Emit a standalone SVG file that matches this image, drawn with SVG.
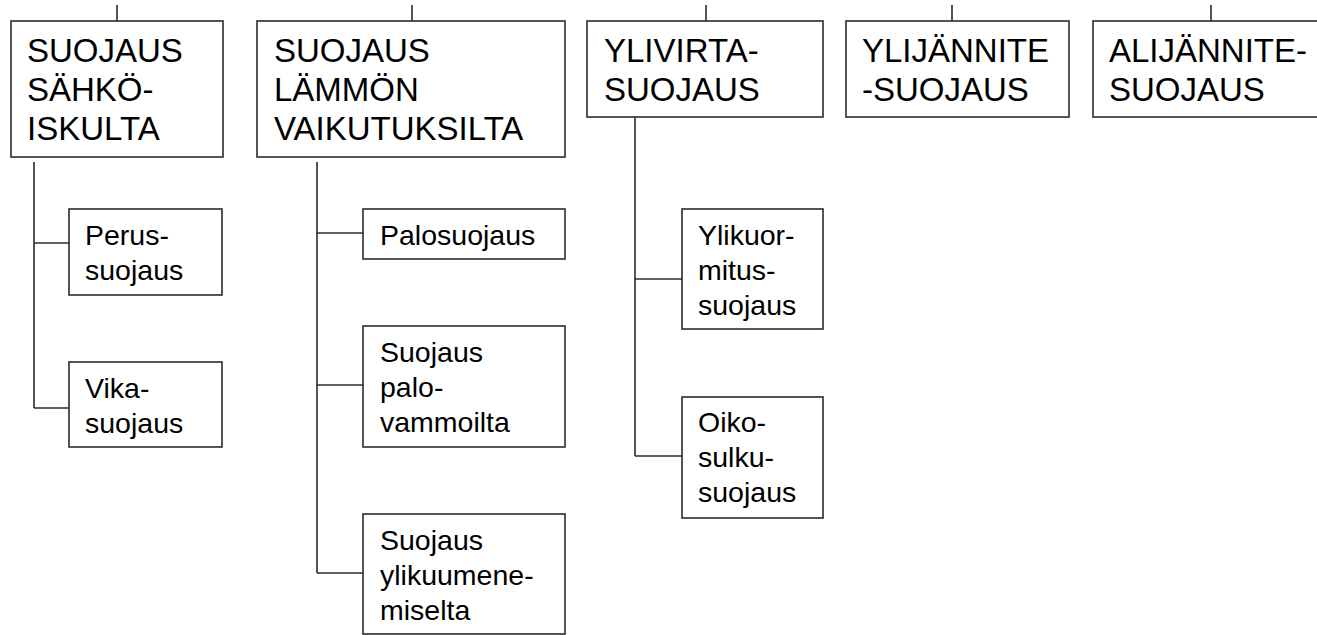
<svg xmlns="http://www.w3.org/2000/svg" width="1317" height="635" viewBox="0 0 1317 635">
<style>
.box{fill:#fff;stroke:#2b2b2b;stroke-width:1.6}
.con{fill:none;stroke:#2b2b2b;stroke-width:1.6}
.big{font-family:"Liberation Sans",Arial,sans-serif;font-size:33px;fill:#000}
.sm{font-family:"Liberation Sans",Arial,sans-serif;font-size:28.5px;fill:#000}
</style>
<rect width="1317" height="635" fill="#fff"/>
<g id="connectors">
<path class="con" d="M117 5V21M412 5V21M706 5V21M952 5V21M1211 5V21"/>
<path class="con" d="M34 162V408M34 243H69M34 408H69"/>
<path class="con" d="M317 162V573M317 233H363M317 385H363M317 573H363"/>
<path class="con" d="M635 117V456M635 279H682M635 456H682"/>
</g>
<g id="n1"><rect class="box" x="11" y="21" width="212" height="136"/>
<text class="big" x="27" y="62">SUOJAUS</text><text class="big" x="27" y="101">SÄHKÖ-</text><text class="big" x="27" y="140">ISKULTA</text></g>
<g id="n2"><rect class="box" x="257" y="21" width="308" height="136"/>
<text class="big" x="274" y="62">SUOJAUS</text><text class="big" x="274" y="101">LÄMMÖN</text><text class="big" x="274" y="140">VAIKUTUKSILTA</text></g>
<g id="n3"><rect class="box" x="587" y="21" width="236" height="96"/>
<text class="big" x="604" y="62">YLIVIRTA-</text><text class="big" x="604" y="101">SUOJAUS</text></g>
<g id="n4"><rect class="box" x="846" y="21" width="223" height="96"/>
<text class="big" x="862" y="62">YLIJÄNNITE</text><text class="big" x="862" y="101">-SUOJAUS</text></g>
<g id="n5"><rect class="box" x="1093" y="21" width="240" height="96"/>
<text class="big" x="1109" y="62">ALIJÄNNITE-</text><text class="big" x="1109" y="101">SUOJAUS</text></g>
<g id="n1a"><rect class="box" x="69" y="209" width="153" height="86"/>
<text class="sm" x="85" y="245">Perus-</text><text class="sm" x="85" y="280">suojaus</text></g>
<g id="n1b"><rect class="box" x="69" y="362" width="153" height="85"/>
<text class="sm" x="85" y="398">Vika-</text><text class="sm" x="85" y="433">suojaus</text></g>
<g id="n2a"><rect class="box" x="363" y="209" width="202" height="50"/>
<text class="sm" x="380" y="245">Palosuojaus</text></g>
<g id="n2b"><rect class="box" x="363" y="326" width="202" height="121"/>
<text class="sm" x="380" y="362">Suojaus</text><text class="sm" x="380" y="397">palo-</text><text class="sm" x="380" y="432">vammoilta</text></g>
<g id="n2c"><rect class="box" x="363" y="514" width="202" height="120"/>
<text class="sm" x="380" y="550">Suojaus</text><text class="sm" x="380" y="585">ylikuumene-</text><text class="sm" x="380" y="620">miselta</text></g>
<g id="n3a"><rect class="box" x="682" y="209" width="141" height="120"/>
<text class="sm" x="698" y="245">Ylikuor-</text><text class="sm" x="698" y="280">mitus-</text><text class="sm" x="698" y="315">suojaus</text></g>
<g id="n3b"><rect class="box" x="682" y="397" width="141" height="121"/>
<text class="sm" x="698" y="432">Oiko-</text><text class="sm" x="698" y="467">sulku-</text><text class="sm" x="698" y="502">suojaus</text></g>
</svg>
